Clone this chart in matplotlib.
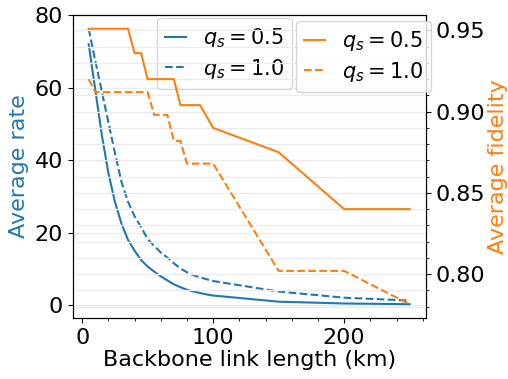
import matplotlib
matplotlib.use("Agg")
import matplotlib.pyplot as plt
from matplotlib.ticker import MultipleLocator

plt.rcParams['font.size'] = 16

# backbone link length (km)
length = [5, 10, 15, 20, 25, 30, 35, 40, 45, 50, 55, 60, 65, 70, 75, 80, 85,
          90, 95, 100, 150, 200, 250]

# average rate
rate_05 = [72, 59.5, 47, 36.5, 28.5, 22.5, 18, 15, 12.4, 10.6, 9.2, 7.9, 6.8,
           5.7, 4.9, 4.2, 3.7, 3.3, 2.9, 2.6, 0.9, 0.4, 0.2]
rate_10 = [76.3, 67.5, 59, 50.5, 42, 34, 28.5, 24.5, 21.5, 18.2, 16.3, 14.5,
           13.1, 11.5, 10.1, 9.0, 8.2, 7.6, 7.1, 6.6, 3.7, 2.0, 1.2]

# average fidelity
fid_05 = [0.951, 0.951, 0.951, 0.951, 0.951, 0.951, 0.951, 0.936, 0.936,
          0.920, 0.920, 0.920, 0.920, 0.920, 0.904, 0.904, 0.904, 0.904,
          0.897, 0.890, 0.875, 0.840, 0.840]
fid_10 = [0.920, 0.912, 0.912, 0.912, 0.912, 0.912, 0.912, 0.912, 0.912,
          0.912, 0.898, 0.898, 0.898, 0.882, 0.882, 0.868, 0.868, 0.868,
          0.868, 0.868, 0.802, 0.802, 0.7815]

labels = [r'$q_s = 0.5$', r'$q_s = 1.0$']

fig = plt.figure(figsize=(5.08, 3.79), dpi=100)
ax1 = fig.add_axes([0.143, 0.161, 0.695, 0.7995])
ax2 = ax1.twinx()

ax1.plot(length, rate_05, color='tab:blue', ls='-', lw=1.5, label=labels[0])
ax1.plot(length, rate_10, color='tab:blue', ls='--', lw=1.5, label=labels[1])
ax2.plot(length, fid_05, color='tab:orange', ls='-', lw=1.5, label=labels[0])
ax2.plot(length, fid_10, color='tab:orange', ls='--', lw=1.5, label=labels[1])

ax1.set_xlabel('Backbone link length (km)', labelpad=2)
ax1.set_ylabel('Average rate', color='tab:blue', labelpad=4)
ax2.set_ylabel('Average fidelity', color='tab:orange', labelpad=2)

ax1.set_yticks([0, 20, 40, 60, 80])
ax1.xaxis.set_major_locator(MultipleLocator(100))
ax1.xaxis.set_minor_locator(MultipleLocator(20))
ax2.yaxis.set_major_locator(MultipleLocator(0.05))
ax2.yaxis.set_minor_locator(MultipleLocator(0.01))

ax1.grid(True, axis='y', color='#ebebeb', lw=1)
ax2.grid(True, axis='y', which='both', color='#ebebeb', lw=1)
ax1.set_axisbelow(True)

ax1.legend(loc='upper left', bbox_to_anchor=(0.239, 0.99), borderaxespad=0,
           handlelength=1.0, fontsize=15, labelspacing=0.3)
ax2.legend(loc='upper left', bbox_to_anchor=(0.632, 0.98), borderaxespad=0,
           handlelength=1.0, fontsize=15, labelspacing=0.3)

fig.savefig('out.png', dpi=100)
